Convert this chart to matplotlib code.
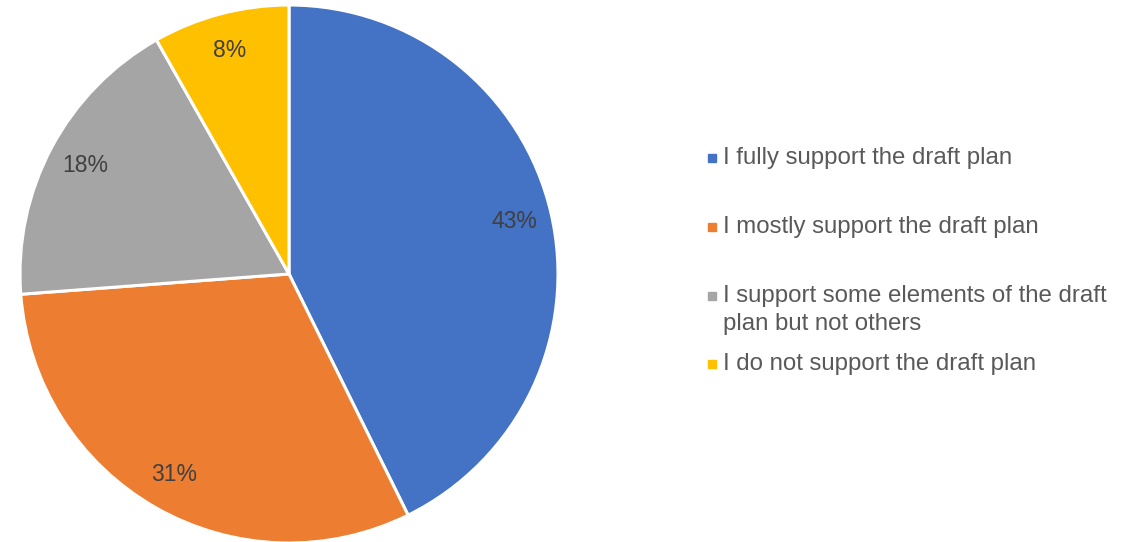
import matplotlib.pyplot as plt
from matplotlib.patches import Rectangle

plt.rcParams['font.family'] = ['Liberation Sans', 'DejaVu Sans']

# survey answers (share of respondents, %)
labels = ['I fully support the draft plan',
          'I mostly support the draft plan',
          'I support some elements of the draft\nplan but not others',
          'I do not support the draft plan']
shares = [42.7, 31.1, 18.0, 8.2]
colors = ['#4472C4', '#ED7D31', '#A5A5A5', '#FFC000']

W, H = 1128, 542
fig = plt.figure(figsize=(W / 100, H / 100), dpi=100)

# pie centre at (289, 274) px, radius 269 px
cx, cy, r = 289, 274, 269
ax = fig.add_axes([(cx - r) / W, (H - cy - r) / H, 2 * r / W, 2 * r / H])
wedges, _, autotexts = ax.pie(shares, colors=colors, startangle=90, counterclock=False,
                              autopct='%.0f%%', pctdistance=0.86,
                              wedgeprops=dict(edgecolor='white', linewidth=2.2))
for t in autotexts:
    t.set_color('#404040')
    t.set_fontsize(16.5)
ax.set_xlim(-1, 1)
ax.set_ylim(-1, 1)
ax.set_aspect('equal')
ax.axis('off')

# legend drawn by hand to match the original layout
rows_y = [158, 227, 310, 364]
for lab, col, y in zip(labels, colors, rows_y):
    fig.patches.append(Rectangle((708 / W, (H - (y if '\n' not in lab else 296) - 4) / H),
                                 8 / W, 8 / H, transform=fig.transFigure, color=col))
    fig.text(723 / W, (H - y) / H, lab, fontsize=17.3, color='#595959',
             va='center', ha='left', linespacing=1.3)

fig.savefig('out.png', dpi=100)
